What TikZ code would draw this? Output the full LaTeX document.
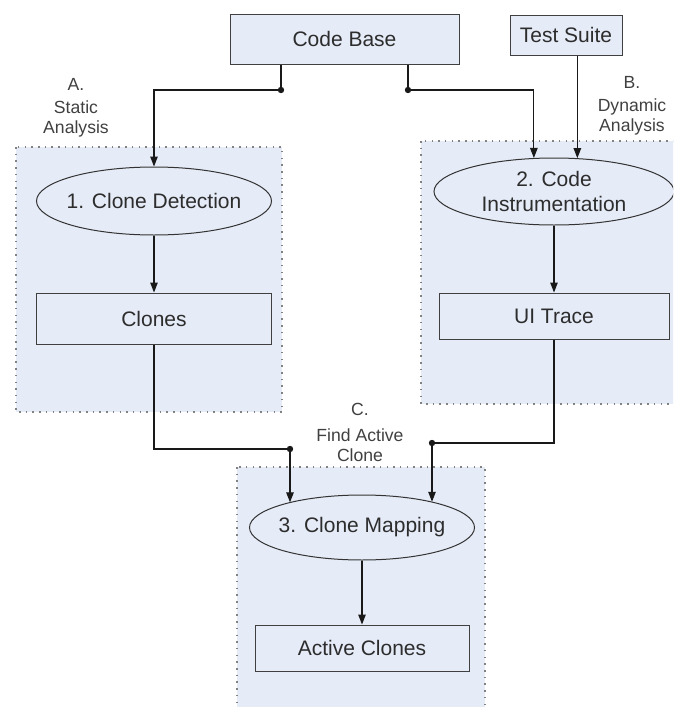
\documentclass[tikz,border=0pt]{standalone}
\usepackage{fontspec}
\setmainfont{Liberation Sans}
\usetikzlibrary{shapes.geometric, arrows.meta, positioning}

\definecolor{paleblue}{RGB}{229,235,247}
\definecolor{inkgray}{RGB}{45,45,45}
\definecolor{dotgray}{RGB}{130,130,130}

\begin{document}
\begin{tikzpicture}[x=1pt, y=-1pt,
    font=\fontsize{21}{25}\selectfont, text=inkgray,
    store/.style={draw=black!75, fill=paleblue, line width=1pt, minimum height=50pt},
    stage/.style={ellipse, draw=black!80, fill=paleblue, line width=1pt,
        inner xsep=-25pt, inner ysep=-6pt, align=center},
    group/.style={fill=paleblue, draw=dotgray, line width=1.5pt,
        dash pattern=on 1.5pt off 5.2pt},
    tag/.style={align=center, font=\fontsize{17.6}{20}\selectfont, text=black!75},
    flow/.style={line width=1.2pt, draw=black!90,
        -{Triangle[length=10pt,width=7.5pt]}},
    joint/.style={fill=black!90}]
			% Frame of the page
			\useasboundingbox (0,0) rectangle (673,707);
			\clip (0,0) rectangle (673,707);
			% Analysis regions
			\filldraw[group] (16,147) rectangle (282,412);
			\filldraw[group] (421,141) rectangle (700,404);
			\filldraw[group] (237,467) rectangle (485,730);
			% Inputs
			\node[store, minimum width=229pt] (codebase) at (344.5,39) {Code Base};
			\node[store, minimum width=112pt, minimum height=40pt] (testsuite) at (566,35) {Test Suite};
			% Static side
			\node[stage, minimum width=235pt, minimum height=68pt] (detect) at (154,201) {1. Clone Detection};
			\node[store, minimum width=235pt, minimum height=51pt] (clones) at (154,318.5) {Clones};
			% Dynamic side
			\node[stage, minimum width=240pt, minimum height=67pt] (instr) at (554,191.5) {2. Code\\Instrumentation};
			\node[store, minimum width=230pt, minimum height=46pt] (uitrace) at (554,316) {UI Trace};
			% Mapping
			\node[stage, minimum width=225pt, minimum height=65pt] (mapping) at (362,527.5) {3. Clone Mapping};
			\node[store, minimum width=214pt, minimum height=46pt] (active) at (362,648) {Active Clones};
			% Region captions
			\node[tag] (labA) at (76,108) {A.\\[3pt]Static\\Analysis};
			\node[tag] (labB) at (632,106) {B.\\[3pt]Dynamic\\Analysis};
			\node[tag] (labC) at (360,432) {C.\\[6pt]Find Active\\Clone};
			% Junctions
			\coordinate (jA) at (281,90);
			\coordinate (jB) at (408,90);
			\coordinate (jC) at (290,449);
			\coordinate (jD) at (432,443);
			% Flow
			\draw[flow] (codebase.south -| jA) -- (jA) -| (detect.north);
			\draw[flow] (codebase.south -| jB) -- (jB) -| (instr.121);
			\draw[flow] (instr.55 |- testsuite.south) -- (instr.55);
			\draw[flow] (detect) -- (clones);
			\draw[flow] (instr) -- (uitrace);
			\draw[flow] (clones.south) |- (jC) -- (jC |- mapping.161);
			\draw[flow] (uitrace.south) |- (jD) -- (jD |- mapping.20);
			\draw[flow] (mapping) -- (active);
			\foreach \j in {jA,jB,jC,jD}
				\fill[joint] (\j) circle (3.2pt);
		\end{tikzpicture}
\end{document}
